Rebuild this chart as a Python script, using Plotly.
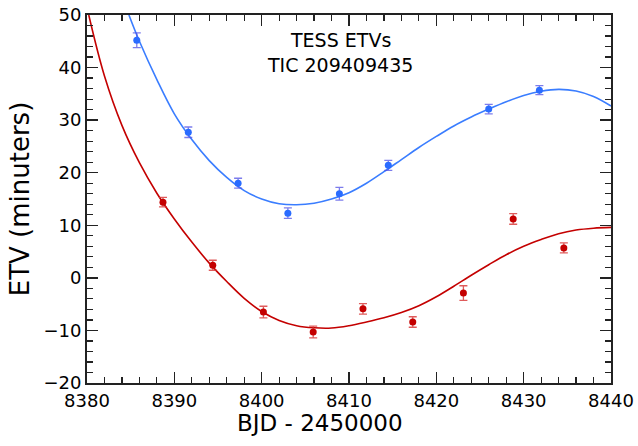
import plotly.graph_objects as go

# Observed ETVs (primary, blue) and (secondary, red)
blue_t = [8385.7, 8391.6, 8397.3, 8403.0, 8408.9, 8414.5, 8426.0, 8431.8]
blue_etv = [45.2, 27.7, 18.0, 12.3, 16.0, 21.4, 32.1, 35.7]
blue_err = [1.4, 1.0, 0.95, 1.0, 1.2, 0.95, 0.9, 0.85]

red_t = [8388.7, 8394.4, 8400.2, 8405.9, 8411.6, 8417.3, 8423.1, 8428.8, 8434.6]
red_etv = [14.4, 2.4, -6.5, -10.3, -5.9, -8.4, -2.9, 11.2, 5.7]
red_err = [0.9, 0.95, 1.1, 1.1, 1.0, 1.0, 1.4, 1.0, 0.95]

# Model curves
blue_model_t = [8384.8, 8386, 8388, 8390, 8392, 8394, 8396, 8398, 8400, 8402, 8404,
                8406, 8408, 8410, 8412, 8414, 8416, 8418, 8420, 8422, 8424, 8426,
                8428, 8430, 8432, 8434, 8436, 8438, 8440]
blue_model = [50.0, 45.0, 37.7, 31.2, 26.3, 22.3, 19.1, 16.6, 15.0, 14.1, 13.9,
              14.2, 15.0, 16.2, 18.0, 20.2, 22.5, 24.8, 26.9, 28.9, 30.6, 32.1,
              33.5, 34.7, 35.5, 35.85, 35.55, 34.5, 32.7]

red_model_t = [8380.2, 8382, 8384, 8386, 8388, 8390, 8392, 8394, 8396, 8398, 8400,
               8402, 8404, 8406, 8408, 8410, 8412, 8414, 8416, 8418, 8420, 8422,
               8424, 8426, 8428, 8430, 8432, 8434, 8436, 8438, 8440]
red_model = [50.0, 38.4, 29.0, 21.9, 16.1, 11.2, 6.8, 2.8, -0.7, -3.9, -6.4,
             -8.1, -9.1, -9.5, -9.55, -9.1, -8.4, -7.6, -6.6, -5.3, -3.6, -1.6,
             0.5, 2.5, 4.4, 6.0, 7.3, 8.4, 9.1, 9.45, 9.6]

x_ticks = [8380, 8390, 8400, 8410, 8420, 8430, 8440]
y_ticks = [-20, -10, 0, 10, 20, 30, 40, 50]

FONT = "DejaVu Sans"

fig = go.Figure()
fig.add_trace(go.Scatter(x=blue_model_t, y=blue_model, mode="lines",
                         line=dict(color="#3a7dff", width=1.6, shape="spline"),
                         showlegend=False, hoverinfo="skip"))
fig.add_trace(go.Scatter(x=red_model_t, y=red_model, mode="lines",
                         line=dict(color="#c40000", width=1.6, shape="spline"),
                         showlegend=False, hoverinfo="skip"))
fig.add_trace(go.Scatter(x=blue_t, y=blue_etv, mode="markers",
                         marker=dict(color="#2a6cff", size=7),
                         error_y=dict(type="data", array=blue_err, color="rgba(80,80,230,0.75)",
                                      thickness=1.3, width=4),
                         showlegend=False))
fig.add_trace(go.Scatter(x=red_t, y=red_etv, mode="markers",
                         marker=dict(color="#c40000", size=7),
                         error_y=dict(type="data", array=red_err, color="rgba(215,50,50,0.8)",
                                      thickness=1.3, width=4),
                         showlegend=False))

axis_common = dict(showline=True, linecolor="#222", linewidth=2, mirror="allticks",
                   ticks="inside", ticklen=11, tickwidth=1.5, tickcolor="#222",
                   showgrid=False, zeroline=False, automargin=False,
                   ticklabeloverflow="allow",
                   tickfont=dict(family=FONT, size=18, color="black"))

fig.update_xaxes(range=[8380, 8440], tickvals=x_ticks,
                 minor=dict(dtick=2, ticks="inside", ticklen=6, tickwidth=1.2, tickcolor="#222"),
                 **axis_common)
fig.update_yaxes(range=[-20, 50], tickvals=y_ticks,
                 minor=dict(dtick=2, ticks="inside", ticklen=6, tickwidth=1.2, tickcolor="#222"),
                 title=dict(text="ETV (minuters)", font=dict(family=FONT, size=26, color="black"),
                            standoff=6),
                 **axis_common)

# x-axis title (centred on the figure, as in the original)
fig.add_annotation(x=0.4447, y=0, xref="paper", yref="paper", yshift=-40,
                   yanchor="middle", text="BJD - 2450000", showarrow=False,
                   font=dict(family=FONT, size=23, color="black"))

fig.add_annotation(x=8409.0, y=45.3, xref="x", yref="y", text="TESS ETVs", showarrow=False,
                   font=dict(family=FONT, size=19, color="black"))
fig.add_annotation(x=8409.0, y=40.5, xref="x", yref="y", text="TIC 209409435", showarrow=False,
                   font=dict(family=FONT, size=19, color="black"))

fig.update_layout(width=638, height=446, margin=dict(l=87, r=27, t=15, b=63),
                  paper_bgcolor="white", plot_bgcolor="white")

# remove the browser's default page margin so the figure fills the window exactly
fig.write_html("out.html", config={"displayModeBar": False, "staticPlot": True},
               post_script="document.body.style.margin='0';document.body.style.overflow='hidden';")
